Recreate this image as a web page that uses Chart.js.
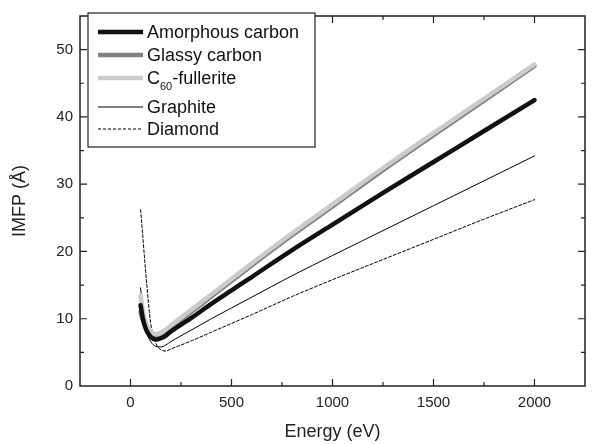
<!DOCTYPE html>
<html>
<head>
<meta charset="utf-8">
<script src="https://cdn.jsdelivr.net/npm/chart.js@4/dist/chart.umd.min.js"></script>
<style>
  html, body { margin: 0; padding: 0; background: #fff; }
  canvas { display: block; }
</style>
</head>
<body>
<canvas id="myChart" width="593" height="444"></canvas>
<script>
// energies (eV) and IMFP values (Å)
const energy      = [50, 60, 70, 80, 100, 125, 150, 175, 200, 300, 400, 500, 600, 800, 1000, 1250, 1500, 1750, 2000];
const amorphous   = [12.0, 10.2, 9.0, 8.2, 7.3, 6.9, 7.1, 7.5, 8.1, 10.1, 12.2, 14.2, 16.2, 20.2, 24.0, 28.7, 33.3, 37.9, 42.5];
const glassy      = [11.0, 9.9, 9.1, 8.5, 7.8, 7.4, 7.6, 8.1, 8.7, 11.0, 13.3, 15.6, 17.9, 22.4, 26.7, 32.1, 37.3, 42.4, 47.6];
const fullerite   = [13.5, 11.4, 10.0, 9.1, 8.1, 7.7, 7.9, 8.4, 9.0, 11.3, 13.6, 15.9, 18.2, 22.7, 27.0, 32.4, 37.6, 42.7, 47.8];
const graphite    = [14.6, 11.5, 9.4, 8.0, 6.6, 5.9, 5.8, 6.1, 6.6, 8.3, 10.0, 11.6, 13.2, 16.4, 19.4, 23.1, 26.8, 30.5, 34.2];
const diamond     = [26.2, 22.6, 18.8, 15.3, 9.3, 6.4, 5.4, 5.2, 5.5, 6.7, 8.0, 9.3, 10.6, 13.3, 15.8, 18.8, 21.8, 24.8, 27.7];

const xTickLabels = [0, 500, 1000, 1500, 2000];
const yTickLabels = [0, 10, 20, 30, 40, 50];

const FONT = 'Liberation Sans, Arial, Helvetica, sans-serif';

function pts(ys) {
  return energy.map((e, i) => ({ x: e, y: ys[i] }));
}

// legend entries (drawn by the plugin below)
const legendItems = [
  { text: ['Amorphous carbon'], color: '#111', width: 4.5, dash: [] },
  { text: ['Glassy carbon'], color: '#808080', width: 4.5, dash: [] },
  { text: ['C', '60', '-fullerite'], color: '#cbcbcb', width: 4.5, dash: [] },
  { text: ['Graphite'], color: '#000', width: 1, dash: [] },
  { text: ['Diamond'], color: '#000', width: 1, dash: [3, 2] }
];
const legendRowsY = [32, 55, 78, 107, 129];

// frame, inward ticks on all four sides, boxed legend
const framePlugin = {
  id: 'frame',
  afterDraw(chart) {
    const ctx = chart.ctx;
    const { left, right, top, bottom } = chart.chartArea;
    const xs = chart.scales.x, ys = chart.scales.y;
    ctx.save();
    ctx.strokeStyle = '#222';
    ctx.lineWidth = 1.5;
    ctx.strokeRect(left, top, right - left, bottom - top);

    ctx.lineWidth = 1.2;
    xs.ticks.forEach(t => {
      const px = xs.getPixelForValue(t.value);
      if (px <= left + 1 || px >= right - 1) return;
      const len = xTickLabels.includes(t.value) ? 7 : 4;
      ctx.beginPath();
      ctx.moveTo(px, bottom); ctx.lineTo(px, bottom - len);
      ctx.moveTo(px, top); ctx.lineTo(px, top + len);
      ctx.stroke();
    });
    ys.ticks.forEach(t => {
      const py = ys.getPixelForValue(t.value);
      if (py <= top + 1 || py >= bottom - 1) return;
      const len = yTickLabels.includes(t.value) ? 7 : 4;
      ctx.beginPath();
      ctx.moveTo(left, py); ctx.lineTo(left + len, py);
      ctx.moveTo(right, py); ctx.lineTo(right - len, py);
      ctx.stroke();
    });

    // legend box
    ctx.fillStyle = '#fff';
    ctx.fillRect(88, 13, 227, 134);
    ctx.strokeStyle = '#222';
    ctx.lineWidth = 1.2;
    ctx.strokeRect(88, 13, 227, 134);

    legendItems.forEach((it, i) => {
      const y = legendRowsY[i];
      ctx.beginPath();
      ctx.setLineDash(it.dash);
      ctx.strokeStyle = it.color;
      ctx.lineWidth = it.width;
      ctx.moveTo(98, y); ctx.lineTo(143, y);
      ctx.stroke();
      ctx.setLineDash([]);

      ctx.fillStyle = '#111';
      ctx.textBaseline = 'middle';
      ctx.textAlign = 'left';
      let x = 147;
      ctx.font = '18px ' + FONT;
      ctx.fillText(it.text[0], x, y + 1);
      if (it.text.length > 1) {
        x += ctx.measureText(it.text[0]).width;
        ctx.font = '11px ' + FONT;
        ctx.fillText(it.text[1], x, y + 9);
        x += ctx.measureText(it.text[1]).width;
        ctx.font = '18px ' + FONT;
        ctx.fillText(it.text[2], x, y + 1);
      }
    });
    ctx.restore();
  }
};

const ctx = document.getElementById('myChart').getContext('2d');
const myChart = new Chart(ctx, {
  type: 'line',
  data: {
    datasets: [
      { label: 'Amorphous carbon', data: pts(amorphous), borderColor: '#111', borderWidth: 4.5, order: 0 },
      { label: 'Glassy carbon', data: pts(glassy), borderColor: '#808080', borderWidth: 4.5, order: 2 },
      { label: 'C60-fullerite', data: pts(fullerite), borderColor: '#cbcbcb', borderWidth: 4.5, order: 1 },
      { label: 'Graphite', data: pts(graphite), borderColor: '#000', borderWidth: 1, order: 3 },
      { label: 'Diamond', data: pts(diamond), borderColor: '#000', borderWidth: 1, borderDash: [3, 2], order: 4 }
    ]
  },
  options: {
    responsive: false,
    animation: false,
    layout: { padding: { top: 5, right: 1, left: 0, bottom: 0 } },
    elements: {
      point: { radius: 0 },
      line: { cubicInterpolationMode: 'monotone', borderCapStyle: 'round', borderJoinStyle: 'round' }
    },
    plugins: { legend: { display: false }, tooltip: { enabled: false } },
    scales: {
      x: {
        type: 'linear',
        min: -250, max: 2250,
        grid: { display: false, drawTicks: false },
        border: { display: false },
        afterFit(scale) { scale.height = 58; },
        ticks: {
          stepSize: 250,
          padding: 8,
          color: '#222',
          font: { family: FONT, size: 15 },
          maxRotation: 0,
          autoSkip: false,
          callback: v => xTickLabels.includes(v) ? String(v) : ''
        },
        title: {
          display: true, text: 'Energy (eV)', color: '#222',
          font: { family: FONT, size: 18 },
          padding: { top: 0, bottom: 1.5 }
        }
      },
      y: {
        min: 0, max: 55,
        grid: { display: false, drawTicks: false },
        border: { display: false },
        afterFit(scale) { scale.width = 80; },
        ticks: {
          stepSize: 5,
          padding: 7,
          color: '#222',
          font: { family: FONT, size: 15 },
          autoSkip: false,
          callback: v => yTickLabels.includes(v) ? String(v) : ''
        },
        title: {
          display: true, text: 'IMFP (Å)', color: '#222',
          font: { family: FONT, size: 18 },
          padding: { top: 9, bottom: 0 }
        }
      }
    }
  },
  plugins: [framePlugin]
});
</script>
</body>
</html>
